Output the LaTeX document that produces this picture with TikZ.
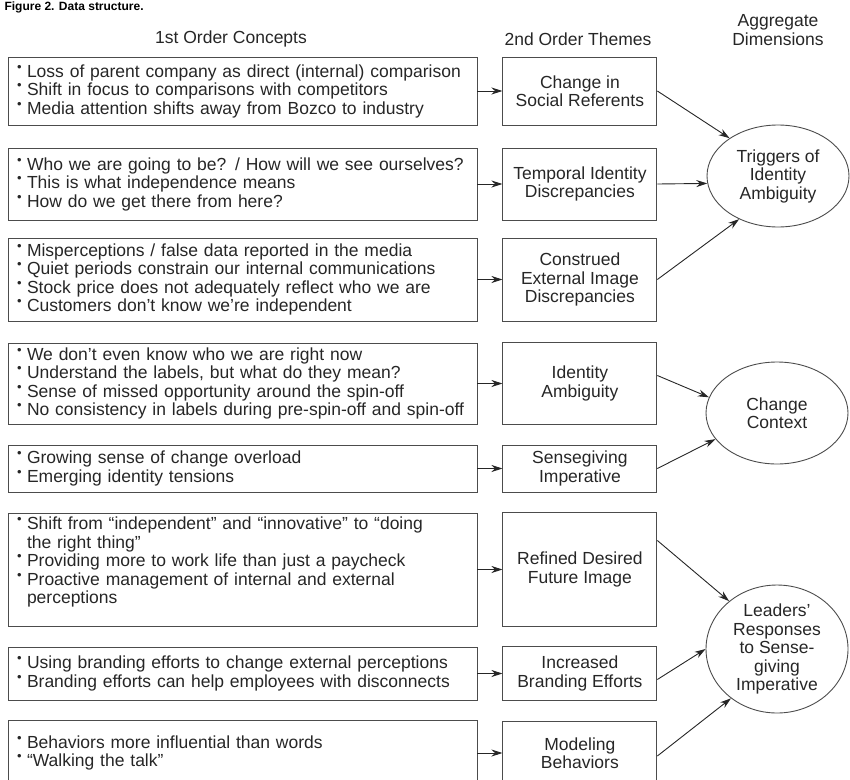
\documentclass[tikz,border=0pt]{standalone}
\usepackage{fontspec}
\setmainfont{Liberation Sans}
\usetikzlibrary{arrows.meta,positioning,shapes.geometric}
\tikzset{
    %Define standard arrow tip
    >={Stealth[length=11pt,width=7pt]},
    %Define style for concept boxes
    concept/.style={
           rectangle,
           draw=black!70, line width=0.9pt,
           text width=451pt,
           inner xsep=9pt,
           align=left},
    %Define style for theme boxes
    theme/.style={
           rectangle,
           draw=black!70, line width=0.9pt,
           minimum width=154pt,
           inner sep=2pt,
           align=center},
    %Define style for dimension ellipses
    dimension/.style={
           ellipse,
           draw=black!70, line width=0.9pt,
           minimum width=142pt,
           inner sep=0pt,
           align=center},
    % Define arrow style
    pil/.style={
           ->,
           draw=black!85,
           line width=0.9pt}
}
\newcommand{\bul}{\makebox[10pt][l]{\raisebox{6pt}{\fontsize{13}{13}\selectfont\textbullet}}}
\newcommand{\cont}{\hspace*{10pt}}

\begin{document}
\begin{tikzpicture}[x=1pt, y=-1pt, font=\fontsize{17.5}{18.5}\selectfont, text=black!85]
        \useasboundingbox (0,0) rectangle (850,779);
        \clip (0,0) rectangle (850,779);

        % title and column heads
        \node[anchor=base west, font=\bfseries\fontsize{12}{12}\selectfont, text=black]
        (title) at (1,10)
        {Figure 2. Data structure.}
        ;
        \node (head1) at (231,39) {1st Order Concepts};
        \node (head2) at (578,39) {2nd Order Themes};
        \node[align=center] (head3) at (778,30) {Aggregate\\Dimensions};

        % 1st order concept nodes
        \node[concept, minimum height=68pt] (lb1) at (242.5,91)
        {\bul Loss of parent company as direct (internal) comparison\\
         \bul Shift in focus to comparisons with competitors\\
         \bul Media attention shifts away from Bozco to industry};

        \node[concept, minimum height=72pt] (lb2) at (242.5,184)
        {\bul Who we are going to be? / How will we see ourselves?\\
         \bul This is what independence means\\
         \bul How do we get there from here?};

        \node[concept, minimum height=83pt] (lb3) at (242.5,279.5)
        {\bul Misperceptions / false data reported in the media\\
         \bul Quiet periods constrain our internal communications\\
         \bul Stock price does not adequately reflect who we are\\
         \bul Customers don’t know we’re independent};

        \node[concept, minimum height=81pt] (lb4) at (242.5,383.5)
        {\bul We don’t even know who we are right now\\
         \bul Understand the labels, but what do they mean?\\
         \bul Sense of missed opportunity around the spin-off\\
         \bul No consistency in labels during pre-spin-off and spin-off};

        \node[concept, minimum height=47pt] (lb5) at (242.5,468.5)
        {\bul Growing sense of change overload\\
         \bul Emerging identity tensions};

        \node[concept, minimum height=113pt] (lb6) at (242.5,569.5)
        {\bul Shift from “independent” and “innovative” to “doing\\
         \cont the right thing”\\
         \bul Providing more to work life than just a paycheck\\
         \bul Proactive management of internal and external\\
         \cont perceptions\\
         \mbox{}};

        \node[concept, minimum height=53pt] (lb7) at (242.5,673.5)
        {\bul Using branding efforts to change external perceptions\\
         \bul Branding efforts can help employees with disconnects};

        \node[concept, minimum height=66pt] (lb8) at (242.5,753)
        {\bul Behaviors more influential than words\\
         \bul “Walking the talk”};

        % 2nd order theme nodes
        \node[theme, minimum height=68pt, right=25pt of lb1] (mb1) {Change in\\Social Referents};
        \node[theme, minimum height=72pt, right=25pt of lb2] (mb2) {Temporal Identity\\Discrepancies};
        \node[theme, minimum height=83pt, right=25pt of lb3] (mb3) {Construed\\External Image\\Discrepancies};
        \node[theme, minimum height=82pt, right=25pt of lb4] (mb4) {Identity\\Ambiguity};
        \node[theme, minimum height=47pt, right=25pt of lb5] (mb5) {Sensegiving\\Imperative};
        \node[theme, minimum height=114pt, right=25pt of lb6] (mb6) {Refined Desired\\Future Image};
        \node[theme, minimum height=54pt, right=25pt of lb7] (mb7) {Increased\\Branding Efforts};
        \node[theme, minimum height=64pt, right=25pt of lb8] (mb8) {Modeling\\Behaviors};

        % aggregate dimension nodes
        \node[dimension, minimum height=102pt] (e1) at (778,176) {Triggers of\\Identity\\Ambiguity};
        \node[dimension, minimum height=102pt] (e2) at (777,413) {Change\\Context};
        \node[dimension, minimum height=128pt] (e3) at (777,649) {Leaders’\\Responses\\to Sense-\\giving\\Imperative};

        % concepts to themes
        \foreach \i in {1,...,8}
            \draw[pil] (lb\i) -- (mb\i);

        % themes to dimensions
        \draw[pil] (mb1.east) -- (e1.142);
        \draw[pil] (mb2.east) -- (e1.186);
        \draw[pil] (mb3.east) -- (e1.228);
        \draw[pil] ([yshift=8pt]mb4.east) -- (e2.167);
        \draw[pil] (mb5.east) -- (e2.203);
        \draw[pil] ([yshift=29pt]mb6.east) -- (e3.135);
        \draw[pil] ([yshift=-6pt]mb7.east) -- (e3.180);
        \draw[pil] ([yshift=-3pt]mb8.east) -- (e3.227);
\end{tikzpicture}
\end{document}
